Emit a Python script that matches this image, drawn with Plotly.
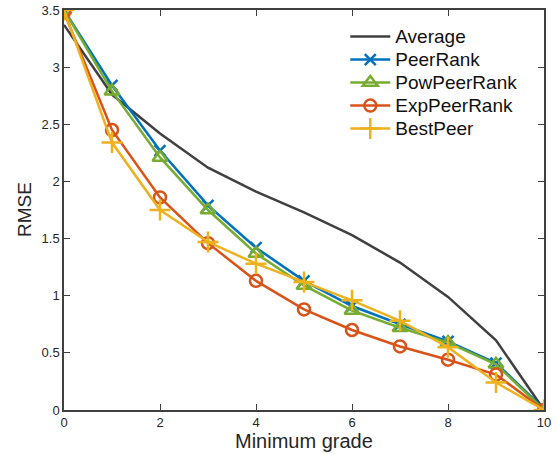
import plotly.graph_objects as go

grades = [0, 1, 2, 3, 4, 5, 6, 7, 8, 9, 10]
average = [3.37, 2.76, 2.42, 2.12, 1.91, 1.73, 1.53, 1.29, 0.99, 0.61, 0.0]
peer_rank = [3.5, 2.84, 2.27, 1.79, 1.42, 1.13, 0.91, 0.75, 0.60, 0.41, 0.01]
pow_peer_rank = [3.5, 2.79, 2.21, 1.75, 1.37, 1.09, 0.87, 0.72, 0.59, 0.40, 0.0]
exp_peer_rank = [3.48, 2.45, 1.86, 1.46, 1.13, 0.88, 0.70, 0.556, 0.44, 0.31, 0.0]
best_peer = [3.5, 2.34, 1.75, 1.47, 1.28, 1.12, 0.96, 0.78, 0.55, 0.24, 0.0]
x_ticks = [0, 2, 4, 6, 8, 10]
y_ticks = [0, 0.5, 1, 1.5, 2, 2.5, 3, 3.5]
y_tick_labels = ["0", "0.5", "1", "1.5", "2", "2.5", "3", "3.5"]

series = [
    ("Average", average, "#404040", None, 0),
    ("PeerRank", peer_rank, "#0072BD", "x-thin-open", 11),
    ("PowPeerRank", pow_peer_rank, "#77AC30", "triangle-up-open", 13),
    ("ExpPeerRank", exp_peer_rank, "#D95319", "circle-open", 12),
    ("BestPeer", best_peer, "#EDB120", "cross-thin-open", 15),
]

FONT = "Liberation Sans, Arial, Helvetica, sans-serif"

fig = go.Figure()
for name, vals, color, sym, size in series:
    label = f'<span style="font-size:19px">{name}</span>'
    if sym is None:
        fig.add_trace(go.Scatter(x=grades, y=vals, name=label, mode="lines",
                                 line=dict(color=color, width=2.5)))
    else:
        fig.add_trace(go.Scatter(x=grades, y=vals, name=label, mode="lines+markers",
                                 line=dict(color=color, width=2.5),
                                 marker=dict(symbol=sym, size=size, color=color,
                                             line=dict(color=color, width=2.5))))

axis_common = dict(
    showline=True, linecolor="#404040", linewidth=1.5, mirror="ticks",
    ticks="inside", ticklen=6, tickwidth=1.2, tickcolor="#404040",
    showgrid=False, zeroline=False, automargin=False,
    tickfont=dict(family=FONT, size=13, color="#262626"),
)

fig.update_layout(
    width=557, height=454,
    margin=dict(l=64, r=13, t=10, b=44),
    paper_bgcolor="white", plot_bgcolor="white",
    font=dict(family=FONT, color="#262626"),
    xaxis=dict(range=[0, 10], tickvals=x_ticks, ticklabelstandoff=0, **axis_common),
    yaxis=dict(range=[0, 3.5], tickvals=y_ticks, ticktext=y_tick_labels, **axis_common),
    legend=dict(x=0.586, y=0.975, xanchor="left", yanchor="top",
                bgcolor="rgba(255,255,255,0)", borderwidth=0,
                font=dict(family=FONT, size=15.4, color="#111111"), tracegroupgap=0,
                itemwidth=40),
    annotations=[
        dict(text="Minimum grade", xref="paper", yref="paper", x=0.5, y=-0.078,
             xanchor="center", yanchor="middle", showarrow=False, borderpad=0,
             font=dict(family=FONT, size=20, color="#262626")),
        dict(text="RMSE", xref="paper", yref="paper", x=-0.0833, y=0.5,
             xanchor="center", yanchor="middle", showarrow=False, textangle=-90,
             font=dict(family=FONT, size=19, color="#262626")),
    ],
)

fig.write_html("out.html", config={"displayModeBar": False},
               post_script="document.body.style.margin='0px';")
